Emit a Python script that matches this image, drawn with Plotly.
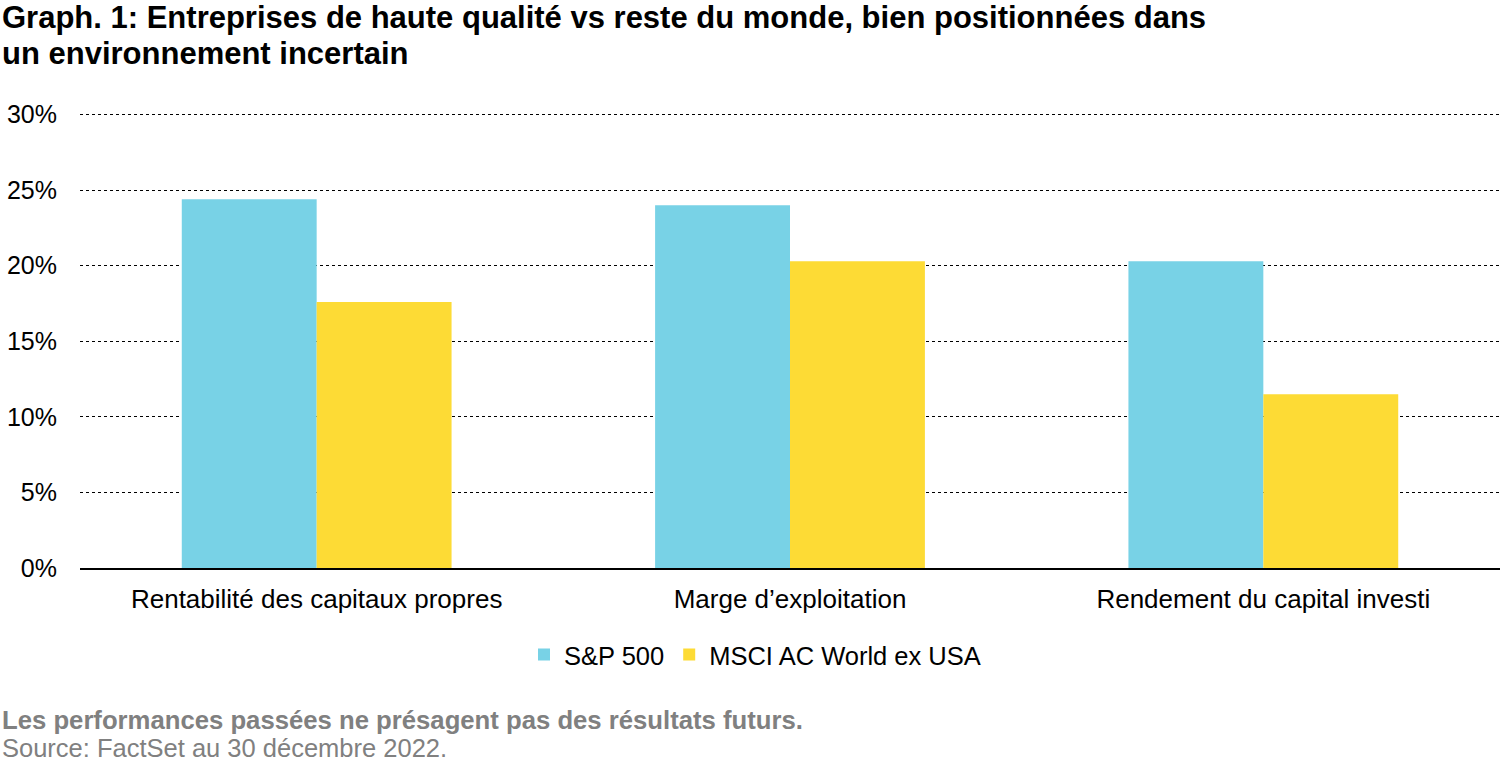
import plotly.graph_objects as go

categories = ["Rentabilité des capitaux propres", "Marge d\u2019exploitation", "Rendement du capital investi"]
sp500 = [24.4, 24.0, 20.3]
msci = [17.6, 20.3, 11.5]
series_names = ["S&P 500", "MSCI AC World ex USA"]
tick_vals = [0, 5, 10, 15, 20, 25, 30]
tick_text = ["0%", "5%", "10%", "15%", "20%", "25%", "30%"]

FONT = "Liberation Sans, Arial, sans-serif"
W, H = 1500, 768
ML, MR, MT, MB = 80, 0, 110, 200
PH = H - MT - MB
PW = W - ML - MR

def py(p):
    return (H - MB - p) / PH

def px(p):
    return (p - ML) / PW

fig = go.Figure()
fig.add_trace(go.Bar(x=categories, y=sp500, name=series_names[0],
                     marker=dict(color="#78D2E6", line=dict(width=0))))
fig.add_trace(go.Bar(x=categories, y=msci, name=series_names[1],
                     marker=dict(color="#FDDB35", line=dict(width=0))))

fig.update_layout(
    width=W, height=H,
    margin=dict(l=ML, r=MR, t=MT, b=MB),
    paper_bgcolor="white", plot_bgcolor="white",
    barmode="group", bargap=0.43, bargroupgap=0,
    font=dict(family=FONT, size=26, color="#000000"),
    showlegend=True,
    legend=dict(orientation="h", x=px(755), xanchor="center", y=py(655), yanchor="middle",
                font=dict(size=25.5, color="#000"), itemwidth=30, traceorder="normal"),
    xaxis=dict(showgrid=False, showline=True, linecolor="#000", linewidth=1.5,
               ticks="", tickfont=dict(size=26), ticklabelstandoff=7, fixedrange=True),
    yaxis=dict(range=[0, 30.3], tickvals=tick_vals, ticktext=tick_text,
               showgrid=True, gridcolor="#000", griddash="dot", gridwidth=1,
               zeroline=False, showline=False, ticks="", ticklabelstandoff=22,
               tickfont=dict(size=25)),
)

annotations = [
    dict(text="<b>Graph. 1: Entreprises de haute qualité vs reste du monde, bien positionnées dans</b>",
         x=px(0), y=py(18), xanchor="left", yanchor="middle", font=dict(size=31, color="#000")),
    dict(text="<b>un environnement incertain</b>",
         x=px(0), y=py(54), xanchor="left", yanchor="middle", font=dict(size=31, color="#000")),
    dict(text="<b>Les performances passées ne présagent pas des résultats futurs.</b>",
         x=px(0), y=py(720), xanchor="left", yanchor="middle", font=dict(size=25.7, color="#808080")),
    dict(text="Source: FactSet au 30 décembre 2022.",
         x=px(0), y=py(748), xanchor="left", yanchor="middle", font=dict(size=25.5, color="#808080")),
]
for a in annotations:
    a.update(xref="paper", yref="paper", showarrow=False, align="left")
fig.update_layout(annotations=annotations)

fig.write_html("out.html")
